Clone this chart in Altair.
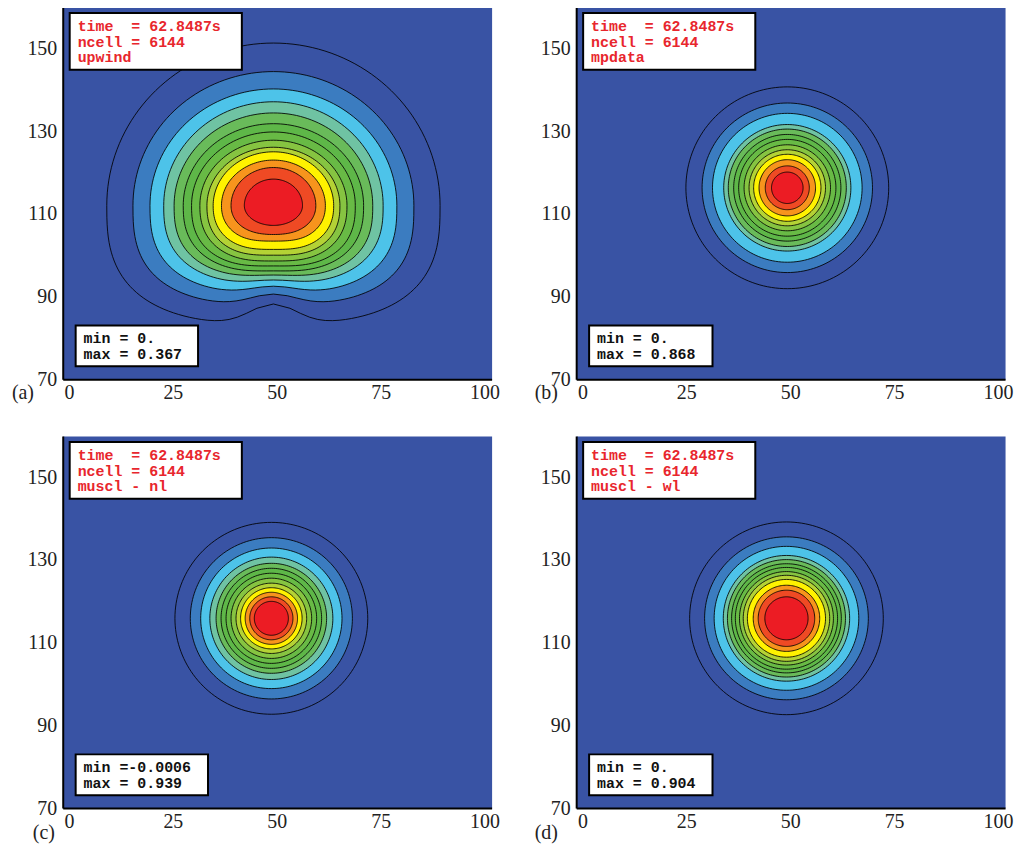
import math
import altair as alt
import pandas as pd

# ---------------- data ----------------
BAND_COLORS = ["#3953a4", "#3b7cc0", "#4dc3e9", "#6fc3a3", "#69bb5a", "#5eb748",
               "#68ba45", "#86c441", "#b4d235", "#fff200", "#f7941d", "#ef4a24", "#ec1c24"]

X_TICKS = [0, 25, 50, 75, 100]
Y_TICKS = [70, 90, 110, 130, 150]
X_DOMAIN = [-1.5, 101.7]
Y_DOMAIN = [70, 160]

# panel (a) upwind : kidney shaped contours
A_CX, A_CY = 49.2, 112.0
A_RX = [40.1, 33.8, 29.7, 26.4, 23.9, 21.7, 19.7, 17.7, 16.0, 14.5, 12.5, 10.2, 7.0]
A_TOP = [151.3, 144.4, 140.2, 137.1, 134.4, 131.8, 129.8, 127.8, 126.1, 125.0, 123.0, 121.2, 118.4]
A_LOW = [83.4, 88.0, 90.8, 93.0, 94.6, 95.8, 97.0, 98.2, 99.5, 100.8, 102.6, 104.5, 107.2]
A_DENT = [88.2, 90.6, 92.5, 94.0, 95.2, 96.2, 97.4, 98.6, 100.0, 101.4, 103.4, 105.0, 107.2]
A_FLAT = [2.8, 2.8, 2.7, 2.6, 2.6, 2.5, 2.5, 2.4, 2.4, 2.3, 2.2, 2.1, 2.0]

# panels (b), (c), (d) : round contours (centre, radii)
B_CX, B_CY = 49.3, 116.3
B_R = [24.4, 20.5, 18.0, 15.3, 14.2, 12.9, 11.7, 10.4, 9.2, 8.1, 6.8, 5.3, 3.8]
C_CX, C_CY = 48.7, 115.9
C_R = [23.2, 19.5, 17.0, 14.8, 13.3, 12.1, 10.9, 9.7, 8.5, 7.4, 6.3, 5.2, 4.1]
D_CX, D_CY = 49.1, 115.9
D_R = [23.3, 19.7, 17.4, 15.2, 14.2, 13.2, 12.3, 11.3, 10.4, 9.4, 8.0, 6.8, 5.2]

NB = "\u00a0"
TOP_TEXT = {
    "a": ["time" + NB * 2 + "=" + NB + "62.8487s", "ncell" + NB + "=" + NB + "6144", "upwind"],
    "b": ["time" + NB * 2 + "=" + NB + "62.8487s", "ncell" + NB + "=" + NB + "6144", "mpdata"],
    "c": ["time" + NB * 2 + "=" + NB + "62.8487s", "ncell" + NB + "=" + NB + "6144", "muscl" + NB + "-" + NB + "nl"],
    "d": ["time" + NB * 2 + "=" + NB + "62.8487s", "ncell" + NB + "=" + NB + "6144", "muscl" + NB + "-" + NB + "wl"],
}
MIN_TEXT = {"a": "0.", "b": "0.", "c": "-0.0006", "d": "0."}
MAX_TEXT = {"a": "0.367", "b": "0.868", "c": "0.939", "d": "0.904"}

W, H = 431, 374


def contour_df(cx, cy, rx, top, low, dent, flat, w=8.0, steps=160):
    rows = []
    for lev in range(len(rx)):
        ryt = top[lev] - cy
        ryb = cy - low[lev]
        bump = dent[lev] - low[lev]
        e = 2.0 / flat[lev]
        for i in range(steps):
            t = 2 * math.pi * i / steps
            c, s = math.cos(t), math.sin(t)
            if s >= 0:
                x = cx + rx[lev] * c
                y = cy + ryt * s
            else:
                x = cx + rx[lev] * math.copysign(abs(c) ** e, c)
                y = cy - ryb * abs(s) ** e + bump * math.exp(-((x - cx) / w) ** 2) * abs(s)
            rows.append({"level": lev, "i": i, "x": x, "y": y})
    return pd.DataFrame(rows)


def round_df(cx, cy, r):
    n = len(r)
    return contour_df(cx, cy, r, [cy + v for v in r], [cy - v for v in r],
                      [cy - v for v in r], [2.0] * n)


SERIF = "Liberation Serif"
MONO = "Liberation Mono"
one = pd.DataFrame({"k": [0]})


def text_lines(lines, x0, y0, step, color):
    base = alt.Chart(one)
    marks = []
    for k, s in enumerate(lines):
        marks.append(base.mark_text(align="left", baseline="middle", font=MONO, fontSize=15,
                                    fontWeight="bold", color=color).encode(
            x=alt.value(x0), y=alt.value(y0 + k * step), text=alt.value(s)))
    return marks


def panel(key, df, min_box_w, label_dx, label_dy):
    xax = alt.Axis(values=X_TICKS, labelFont=SERIF, labelFontSize=20, labelColor="#222222",
                   ticks=False, tickSize=0, grid=False, title=None, labelPadding=3,
                   labelFlush=False, domainColor="black", domainWidth=2)
    yax = alt.Axis(values=Y_TICKS, labelFont=SERIF, labelFontSize=20, labelColor="#222222",
                   ticks=False, tickSize=0, grid=False, title=None, labelPadding=6,
                   labelFlush=False, domainColor="black", domainWidth=2)
    contours = alt.Chart(df).mark_line(interpolate="linear-closed", stroke="black",
                                       strokeWidth=1, strokeOpacity=0.85).encode(
        x=alt.X("x:Q", scale=alt.Scale(domain=X_DOMAIN, nice=False, zero=False), axis=xax),
        y=alt.Y("y:Q", scale=alt.Scale(domain=Y_DOMAIN, nice=False, zero=False), axis=yax),
        fill=alt.Fill("level:O", scale=alt.Scale(domain=list(range(13)), range=BAND_COLORS),
                      legend=None),
        detail="level:O",
        order="i:Q",
    )
    base = alt.Chart(one)
    top_box = base.mark_rect(fill="white", stroke="black", strokeWidth=2).encode(
        x=alt.value(7), x2=alt.value(180), y=alt.value(6), y2=alt.value(63))
    bot_box = base.mark_rect(fill="white", stroke="black", strokeWidth=2).encode(
        x=alt.value(13), x2=alt.value(13 + min_box_w), y=alt.value(320), y2=alt.value(361))
    min_line = "min" + NB + "=" + ("" if MIN_TEXT[key].startswith("-") else NB) + MIN_TEXT[key]
    max_line = "max" + NB + "=" + NB + MAX_TEXT[key]
    lab = base.mark_text(align="center", baseline="middle", font=SERIF, fontSize=20,
                         color="#222222").encode(
        x=alt.value(label_dx), y=alt.value(H + label_dy), text=alt.value("(" + key + ")"))
    layers = [contours, top_box, bot_box]
    layers += text_lines(TOP_TEXT[key], 15, 19.5, 15.5, "#e8262d")
    layers += text_lines([min_line, max_line], 21, 333, 15.5, "#111111")
    layers.append(lab)
    return alt.layer(*layers).properties(width=W, height=H)


pa = panel("a", contour_df(A_CX, A_CY, A_RX, A_TOP, A_LOW, A_DENT, A_FLAT), 123, -40, 14)
pb = panel("b", round_df(B_CX, B_CY, B_R), 124, -30, 14)
pc = panel("c", round_df(C_CX, C_CY, C_R), 133, -19, 25)
pd_ = panel("d", round_df(D_CX, D_CY, D_R), 124, -30, 25)

chart = alt.concat(
    pa, pb, pc, pd_, columns=2,
    spacing=alt.RowColnumber(row=57, column=85), bounds="flush",
).properties(
    padding={"left": 3, "top": -4, "right": 2, "bottom": 0}
).configure_view(fill="#3953a4", stroke="transparent")

chart.save("out.html", embed_options={"renderer": "svg", "actions": False})
